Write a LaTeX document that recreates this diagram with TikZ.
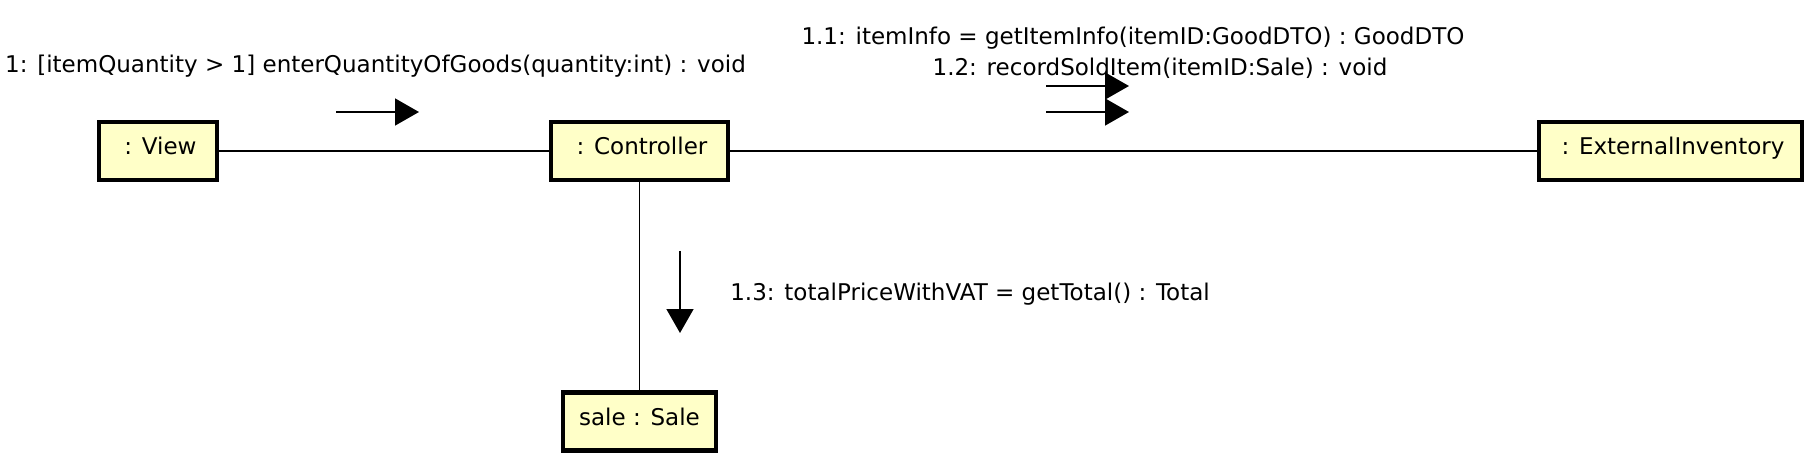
\documentclass[tikz,border=0pt]{standalone}
\usepackage{fontspec}
\setmainfont{DejaVu Sans}
\usetikzlibrary{arrows.meta, positioning}
\definecolor{UML_Object}{HTML}{FFFFC8}

\begin{document}
\begin{tikzpicture}[x=0.02cm, y=-0.02cm,
  obj/.style={draw, line width=2.3pt, fill=UML_Object, minimum height=1.16cm, inner sep=0pt, text height=0.36cm, text depth=0.2cm, font=\fontsize{13.1}{15}\selectfont},
  link/.style={line width=0.9pt},
  msg/.style={line width=0.9pt, -{Triangle[length=0.48cm, width=0.54cm]}},
  lbl/.style={font=\fontsize{13.1}{15}\selectfont, inner sep=0pt}]
\useasboundingbox (0,0) rectangle (1816,462);
% --- objects ---
\node[obj, minimum width=2.36cm] (view) at (158,151) {\hspace{0.1cm}: View};
\node[obj, minimum width=3.54cm] (controller) at (639.5,151) {\hspace{0.1cm}: Controller};
\node[obj, minimum width=5.26cm] (inventory) at (1670.5,151) {\hspace{0.1cm}: ExternalInventory};
\node[obj, minimum width=3.06cm] (sale) at (639.5,421.5) {sale : Sale};
% --- links ---
\draw[link] (view) -- (controller);
\draw[link] (controller) -- (inventory);
\draw[link] (controller) -- (sale);
% --- messages ---
\coordinate (m1s) at (336,112);
\coordinate (m1e) at (419,112);
\draw[msg] (m1s) -- (m1e);
\node[lbl] (m1) at (375.5,66) {1: [itemQuantity > 1] enterQuantityOfGoods(quantity:int) : void};
\coordinate (m11s) at (1046,86);
\coordinate (m11e) at (1129,86);
\draw[msg] (m11s) -- (m11e);
\coordinate (m12s) at (1046,112);
\coordinate (m12e) at (1129,112);
\draw[msg] (m12s) -- (m12e);
\node[lbl] (m11) at (1133,38) {1.1: itemInfo = getItemInfo(itemID:GoodDTO) : GoodDTO};
\node[lbl] (m12) at (1160,68) {1.2: recordSoldItem(itemID:Sale) : void};
\coordinate (m13s) at (680,251);
\coordinate (m13e) at (680,333);
\draw[msg] (m13s) -- (m13e);
\node[lbl, anchor=west] (m13) at (730,294) {1.3: totalPriceWithVAT = getTotal() : Total};
\end{tikzpicture}
\end{document}
